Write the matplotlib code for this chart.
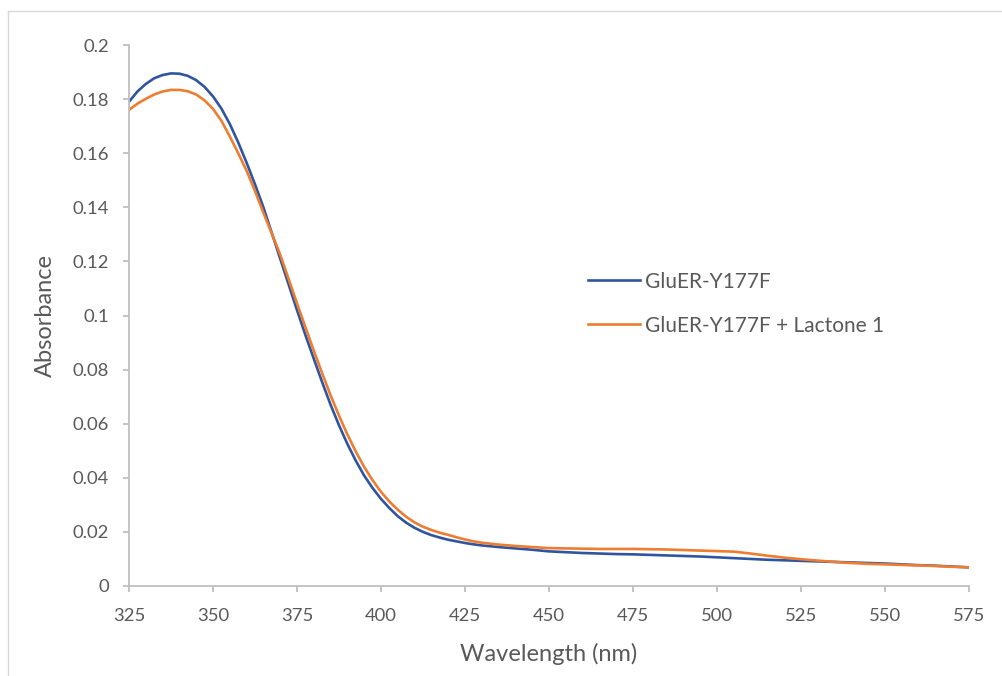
import matplotlib
matplotlib.use("Agg")
import matplotlib.pyplot as plt
from matplotlib.lines import Line2D

plt.rcParams['font.family'] = ['Lato', 'DejaVu Sans']

# wavelength (nm): 2.5 nm steps through the band, 5 nm steps on the tail
wavelength = [325, 327.5, 330, 332.5, 335, 337.5, 340, 342.5, 345, 347.5,
              350, 352.5, 355, 357.5, 360, 362.5, 365, 367.5, 370, 372.5,
              375, 377.5, 380, 382.5, 385, 387.5, 390, 392.5, 395, 397.5,
              400, 402.5, 405, 407.5, 410, 412.5, 415, 417.5, 420, 422.5,
              425, 427.5, 430,
              435, 440, 445, 450, 455, 460, 465, 470, 475, 480,
              485, 490, 495, 500, 505, 510, 515, 520, 525, 530,
              535, 540, 545, 550, 555, 560, 565, 570, 575]

# absorbance
glu_er = [0.1790, 0.1828, 0.1856, 0.1877, 0.1889, 0.1895, 0.1894, 0.1886, 0.1870, 0.1845,
          0.1810, 0.1765, 0.1708, 0.1640, 0.1565, 0.1485, 0.1400, 0.1305, 0.1210, 0.1115,
          0.1020, 0.0928, 0.0840, 0.0753, 0.0670, 0.0594, 0.0525, 0.0463, 0.0408, 0.0362,
          0.0322, 0.0288, 0.0258, 0.0234, 0.0215, 0.0200, 0.0188, 0.0179, 0.0171, 0.0165,
          0.0159, 0.0154, 0.0150,
          0.0144, 0.0139, 0.0134, 0.0128, 0.0125, 0.0122, 0.0120, 0.0118, 0.0117, 0.0115,
          0.0113, 0.0111, 0.0109, 0.0106, 0.0103, 0.0100, 0.0097, 0.0095, 0.0093, 0.0091,
          0.0089, 0.0087, 0.0085, 0.0083, 0.0080, 0.0077, 0.0075, 0.0072, 0.0069]

glu_er_lactone = [0.1760, 0.1783, 0.1801, 0.1817, 0.1828, 0.1834, 0.1834, 0.1829, 0.1817, 0.1795,
                  0.1764, 0.1720, 0.1662, 0.1600, 0.1535, 0.1460, 0.1380, 0.1303, 0.1225, 0.1135,
                  0.1045, 0.0957, 0.0870, 0.0786, 0.0705, 0.0630, 0.0560, 0.0497, 0.0440, 0.0391,
                  0.0348, 0.0312, 0.0282, 0.0256, 0.0235, 0.0219, 0.0207, 0.0197, 0.0189, 0.0180,
                  0.0172, 0.0165, 0.0160,
                  0.0153, 0.0148, 0.0144, 0.0140, 0.0139, 0.0138, 0.0137, 0.0137, 0.0137, 0.0136,
                  0.0135, 0.0133, 0.0131, 0.0129, 0.0127, 0.0120, 0.0112, 0.0105, 0.0099, 0.0094,
                  0.0089, 0.0085, 0.0082, 0.0080, 0.0078, 0.0076, 0.0074, 0.0071, 0.0069]

series_names = ['GluER-Y177F', 'GluER-Y177F + Lactone 1']

xticks = [325, 350, 375, 400, 425, 450, 475, 500, 525, 550, 575]
yticks = [0, 0.02, 0.04, 0.06, 0.08, 0.1, 0.12, 0.14, 0.16, 0.18, 0.2]
ytick_labels = ['0', '0.02', '0.04', '0.06', '0.08', '0.1', '0.12', '0.14', '0.16', '0.18', '0.2']

grey_axis = '#bfbfbf'
grey_text = '#595959'

fig = plt.figure(figsize=(10.03, 6.76), dpi=100)
ax = fig.add_axes([129/1003, 1 - 586/676, (969 - 129)/1003, (586 - 45)/676])

ax.plot(wavelength, glu_er, color='#2f55a0', lw=1.9, label=series_names[0])
ax.plot(wavelength, glu_er_lactone, color='#ed7d31', lw=1.9, label=series_names[1])

ax.set_xlim(325, 575)
ax.set_ylim(0, 0.2)
ax.set_xticks(xticks)
ax.set_yticks(yticks)
ax.set_yticklabels(ytick_labels)

for side in ['top', 'right']:
    ax.spines[side].set_visible(False)
for side in ['left', 'bottom']:
    ax.spines[side].set_color(grey_axis)
    ax.spines[side].set_linewidth(1.3)

ax.tick_params(axis='both', direction='out', length=4.5, width=1.3,
               color=grey_axis, labelcolor=grey_text, labelsize=13.3)
ax.tick_params(axis='y', pad=10)
ax.tick_params(axis='x', pad=11)

ax.set_xlabel('Wavelength (nm)', fontsize=17, color=grey_text, labelpad=14)
ax.set_ylabel('Absorbance', fontsize=17, color=grey_text, labelpad=12)

ax.legend(loc='center left', bbox_to_anchor=(0.5464, 0.522), frameon=False,
          borderpad=0, borderaxespad=0,
          fontsize=15, labelcolor=grey_text, handlelength=2.5,
          handletextpad=0.25, labelspacing=1.15)

# light outer frame of the chart area (open to right and bottom)
fig.add_artist(Line2D([8/1003, 1.0], [1 - 11/676, 1 - 11/676], color='#d9d9d9', lw=1.0))
fig.add_artist(Line2D([8/1003, 8/1003], [0.0, 1 - 11/676], color='#d9d9d9', lw=1.0))

fig.savefig('out.png', dpi=100)
